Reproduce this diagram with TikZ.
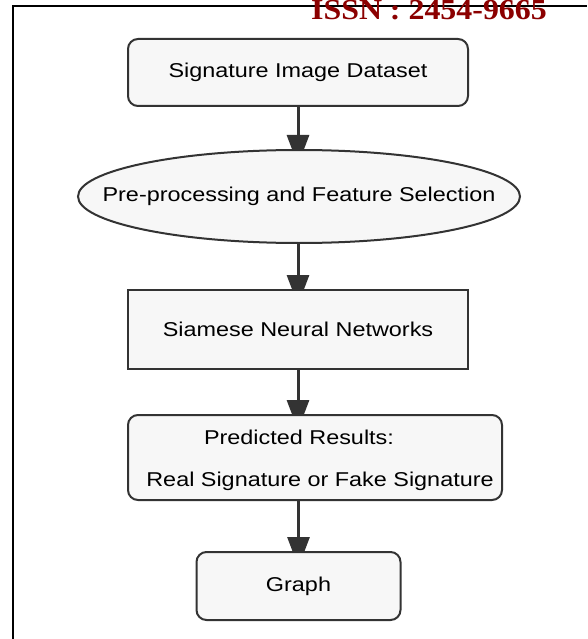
\documentclass[tikz,border=0pt]{standalone}
\usepackage{fontspec}
\setmainfont{Liberation Sans}[FakeStretch=1.17]
\newfontfamily\issnfont{Liberation Serif}[FakeStretch=1.1]
\usepackage{xcolor}
\definecolor{box-fill}{RGB}{247,247,247}
\definecolor{box-line}{RGB}{51,51,51}
\definecolor{issn-red}{RGB}{139,0,0}
\usetikzlibrary{shapes}
\usetikzlibrary{arrows.meta}
\usetikzlibrary{backgrounds}
\tikzstyle{stage}=[draw=box-line, line width=2pt, fill=box-fill, inner sep=0pt, text=black, font=\fontsize{20}{24}\selectfont]
\tikzstyle{roundstage}=[stage, rectangle, rounded corners=10pt]
\tikzstyle{flow}=[draw=box-line, line width=3pt, shorten >=-16pt, -{Triangle[width=22pt,length=30pt]}]
\tikzstyle{txt}=[inner sep=0pt, text=black, font=\fontsize{20}{24}\selectfont]

\begin{document}
\begin{tikzpicture}[x=1pt,y=-1pt]
	\useasboundingbox (0,0) rectangle (587,639);
	% page frame
	\draw[line width=1.5pt] (13,639) -- (13,6) -- (587,6);
	\node[anchor=base, text=issn-red, inner sep=0pt, font=\issnfont\bfseries\fontsize{29}{30}\selectfont] (issn) at (429,20) {ISSN : 2454-9665};
	% stages
	\node[roundstage, minimum width=340pt, minimum height=67pt] (data) at (298,72.5) {Signature Image Dataset};
	\node[stage, ellipse, minimum width=442pt, minimum height=93pt, label=center:{\fontsize{20}{24}\selectfont Pre-processing and Feature Selection}] (prep) at (299,196.5) {};
	\node[stage, rectangle, minimum width=340pt, minimum height=79pt] (snn) at (298,329.5) {Siamese Neural Networks};
	\node[roundstage, minimum width=374pt, minimum height=85pt] (res) at (315,457.5) {};
	\node[txt] (resa) at (299,437) {Predicted Results:};
	\node[txt] (resb) at (320,481) {Real Signature or Fake Signature};
	\node[roundstage, minimum width=204pt, minimum height=68pt] (graph) at (298.5,586) {Graph};
	% arrows, tips hidden under the boxes
	\begin{pgfonlayer}{background}
		\draw[flow] (data.south) -- (data.south |- prep.north);
		\draw[flow] (data.south |- prep.south) -- (snn.north);
		\draw[flow] (snn.south) -- (snn.south |- res.north);
		\draw[flow] (graph.north |- res.south) -- (graph.north);
	\end{pgfonlayer}
\end{tikzpicture}
\end{document}
